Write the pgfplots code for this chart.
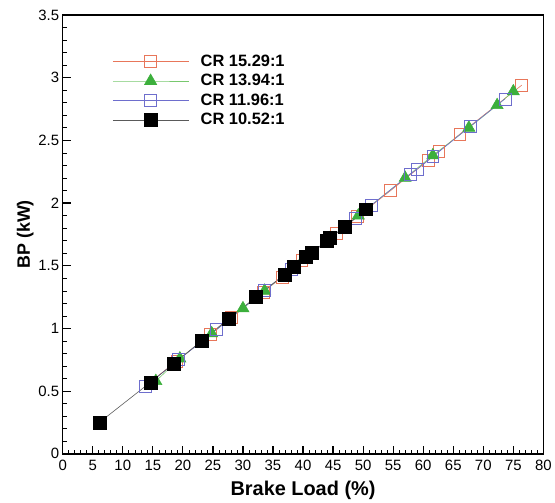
\documentclass[border=0pt]{standalone}
\usepackage{fontspec}
\setmainfont{Liberation Sans}
\usepackage{pgfplots}
\pgfplotsset{compat=1.18}
\definecolor{corange}{RGB}{232,118,90}
\definecolor{cgreen}{RGB}{60,175,60}
\definecolor{cgreenl}{RGB}{120,200,110}
\definecolor{cblue}{RGB}{110,110,205}
\definecolor{cgray}{RGB}{90,90,90}
\begin{document}
\begin{tikzpicture}
\begin{axis}[
  name=ax,
  scale only axis, width=483pt, height=441pt,
  xmin=0, xmax=80, ymin=0, ymax=3.5,
  xtick={0,5,...,80}, ytick={0,0.5,...,3.5},
  minor x tick num=4, minor y tick num=4,
  tick align=inside, tick pos=left,
  major tick length=8pt, minor tick length=4pt,
  every tick/.style={black, line width=1.2pt},
  every minor tick/.style={black, line width=0.6pt},
  axis line style={line width=1.6pt},
  /pgf/number format/assume math mode=true,
  ticklabel style={font=\fontsize{15}{17}\selectfont},
  yticklabel style={/pgf/number format/fixed},
  xticklabel style={yshift=-3pt},
  xlabel={\textbf{Brake Load (\%)}}, ylabel={\textbf{BP (kW)}},
  xlabel style={font=\fontsize{20}{22}\selectfont, yshift=-3pt},
  ylabel style={font=\fontsize{18}{20}\selectfont, yshift=-2pt},
  legend style={draw=none, fill=none, at={(0.097,0.918)}, anchor=north west,
    font=\bfseries\fontsize{16.5}{18}\selectfont, row sep=2.5pt},
  legend cell align=left,
  legend image code/.code={\draw[mark repeat=2,mark phase=2] plot coordinates {(0pt,0pt) (38pt,0pt) (77pt,0pt)}; \path (86pt,0pt);},
]
\addplot[color=corange, line width=0.6pt, mark=square, mark size=6pt, mark options={line width=0.7pt}] coordinates {
(14.5,0.57) (19,0.74) (24.5,0.95) (28,1.09) (33.4,1.29) (36.5,1.41) (39.8,1.54) (45.6,1.76) (49,1.89) (54.6,2.10) (60.8,2.34) (62.6,2.41) (66.1,2.55) (76.4,2.94)};
\addlegendentry{CR 15.29:1}
\addplot[color=cgreenl, line width=0.6pt, mark=triangle*, mark size=7pt, mark options={draw=cgreen, fill=cgreen}] coordinates {
(15.5,0.58) (19.5,0.76) (24.8,0.96) (30,1.16) (33.6,1.30) (40,1.55) (44.5,1.72) (49.2,1.90) (57,2.20) (61.6,2.38) (67.6,2.60) (72.3,2.78) (75.0,2.89)};
\addlegendentry{CR 13.94:1}
\addplot[color=cblue, line width=0.6pt, mark=square, mark size=6pt, mark options={line width=0.7pt}] coordinates {
(13.8,0.54) (19.3,0.75) (25.6,0.99) (33.5,1.30) (38,1.47) (44.5,1.72) (48.7,1.88) (51.3,1.98) (57.8,2.23) (59,2.27) (61.6,2.37) (67.8,2.61) (73.6,2.83)};
\addlegendentry{CR 11.96:1}
\addplot[color=cgray, line width=0.6pt, mark=square*, mark size=6.5pt, mark options={draw=black, fill=black}] coordinates {
(6.1,0.25) (14.6,0.57) (18.5,0.72) (23.1,0.90) (27.7,1.08) (32.2,1.25) (36.9,1.43) (38.5,1.49) (40.5,1.57) (41.4,1.60) (44.0,1.70) (44.5,1.72) (47.0,1.81) (50.5,1.95)};
\addlegendentry{CR 10.52:1}
\end{axis}
\path (ax.south west) ++(-63pt,-47pt) rectangle ++(555pt,503pt);
\end{tikzpicture}
\end{document}
